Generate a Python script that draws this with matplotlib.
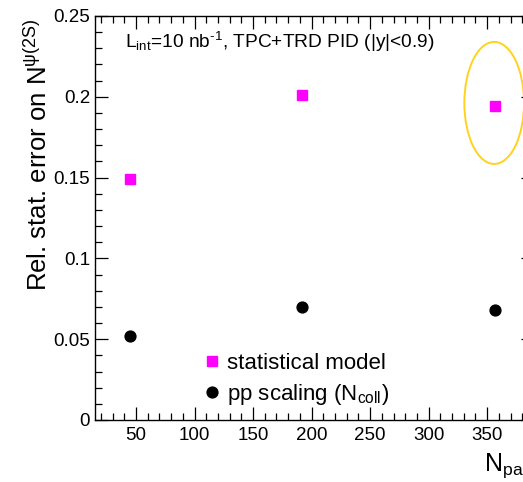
import matplotlib
matplotlib.use("Agg")
import matplotlib.pyplot as plt
from matplotlib.patches import Ellipse
from matplotlib.lines import Line2D
from matplotlib.ticker import MultipleLocator

plt.rcParams['font.family'] = ['Liberation Sans', 'DejaVu Sans']
plt.rcParams['mathtext.fontset'] = 'custom'
plt.rcParams['mathtext.rm'] = 'Liberation Sans'
plt.rcParams['mathtext.it'] = 'Liberation Sans:italic'
plt.rcParams['mathtext.bf'] = 'Liberation Sans:bold'

# Centrality classes (number of participants) and relative statistical errors
npart = [45, 192, 357]
stat_model = [0.149, 0.201, 0.194]
pp_scaling = [0.052, 0.070, 0.068]

W, H = 523, 482
fig = plt.figure(figsize=(W / 100, H / 100), dpi=100)

left, right, top, bottom = 95, 534, 16, 420
ax = fig.add_axes([left / W, 1 - bottom / H, (right - left) / W, (bottom - top) / H])
ax.set_xlim(15, 390)
ax.set_ylim(0, 0.25)

ax.plot(npart, stat_model, ls='none', marker='s', ms=7.6, color='#ff00ff',
        mec='#ff00ff', label='statistical model')
ax.plot(npart, pp_scaling, ls='none', marker='o', ms=7.8, color='black',
        label='pp scaling')

# Highlight the most central class
ax.add_patch(Ellipse((npart[2] - 1, 0.1962), 51, 0.0755, fill=False,
                     ec='#ffd21f', lw=1.4))

ax.xaxis.set_major_locator(MultipleLocator(50))
ax.xaxis.set_minor_locator(MultipleLocator(10))
ax.yaxis.set_major_locator(MultipleLocator(0.05))
ax.yaxis.set_minor_locator(MultipleLocator(0.01))
ax.set_yticks([0, 0.05, 0.1, 0.15, 0.2, 0.25])
ax.set_yticklabels(['0', '0.05', '0.1', '0.15', '0.2', '0.25'])
ax.set_xticks([50, 100, 150, 200, 250, 300, 350])
ax.tick_params(which='both', direction='in', top=True, right=True,
               labelsize=13.5, width=0.9, color='black')
ax.tick_params(which='major', length=9.5)
ax.tick_params(which='minor', length=4.8)
ax.tick_params(axis='x', pad=5)
ax.tick_params(axis='y', pad=3.5)
for s in ax.spines.values():
    s.set_linewidth(1.0)

fig.text(38 / W, 1 - 18 / H, r'Rel. stat. error on N$^{\mathrm{ψ(2S)}}$',
         rotation=90, ha='center', va='top', fontsize=18.5)
fig.text(534 / W, 1 - 471 / H, r'N$_{\mathrm{part}}$', ha='right',
         va='baseline', fontsize=18)
fig.text(125 / W, 1 - 48 / H,
         r'L$_{\mathrm{int}}$=10 nb$^{\text{-1}}$, TPC+TRD PID (|y|<0.9)',
         ha='left', va='baseline', fontsize=13.8)

handles = [
    Line2D([], [], ls='none', marker='s', ms=7.6, color='#ff00ff'),
    Line2D([], [], ls='none', marker='o', ms=7.8, color='black'),
]
labels = ['statistical model', r'pp scaling (N$_{\mathrm{coll}}$)']
ax.legend(handles, labels, loc='upper left', frameon=False, fontsize=16,
          handlelength=0.8, handletextpad=0.28, labelspacing=0.35,
          borderpad=0, borderaxespad=0,
          bbox_to_anchor=(203 / W, 1 - 353 / H), bbox_transform=fig.transFigure)

fig.savefig('out.png', dpi=100)
